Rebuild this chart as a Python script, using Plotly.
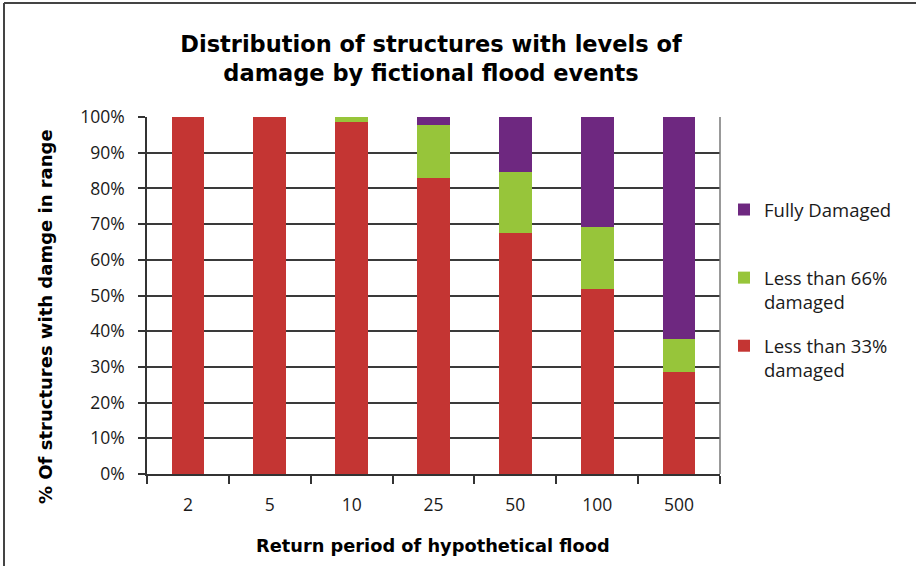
import plotly.graph_objects as go

categories = ["2", "5", "10", "25", "50", "100", "500"]
less_33 = [100, 100, 98.6, 83.0, 67.5, 51.8, 28.6]
less_66 = [0, 0, 1.4, 14.8, 17.1, 17.4, 9.2]
fully = [0, 0, 0, 2.2, 15.4, 30.8, 62.2]

series_names = ["Less than 33%<br>damaged", "Less than 66%<br>damaged", "Fully Damaged<br> "]
colors = ["#C43533", "#97C53A", "#6E2880"]
ranks = [3, 2, 1]
y_ticks = [0, 10, 20, 30, 40, 50, 60, 70, 80, 90, 100]
y_tick_text = [f"{v}%" for v in y_ticks]

W, H = 916, 566
L, R, T, B = 147, 196, 117, 92

fig = go.Figure()
for name, vals, col, rk in zip(series_names, [less_33, less_66, fully], colors, ranks):
    fig.add_trace(go.Bar(x=categories, y=vals, name=name, marker_color=col,
                         marker_line_width=0, legendgroup=name, legendrank=rk))

def px_x(p):
    return (p - L) / (W - L - R)

def px_y(p):
    return (H - B - p) / (H - T - B)

heavy = "DejaVu Sans"

fig.update_layout(
    width=W, height=H,
    barmode="stack", bargap=0.6,
    plot_bgcolor="white", paper_bgcolor="white",
    margin=dict(l=L, r=R, t=T, b=B),
    font=dict(family="Open Sans", size=17.5, color="#1a1a1a"),
    title=dict(text="Distribution of structures with levels of<br>damage by fictional flood events",
               xref="container", yref="container",
               x=431 / W, xanchor="center", y=1 - 52 / H, yanchor="middle",
               font=dict(family=heavy, weight="bold", size=22.5, color="black")),
    legend=dict(x=px_x(724), xanchor="left", y=px_y(191), yanchor="top",
                traceorder="grouped", tracegroupgap=17, valign="top",
                font=dict(family="Open Sans", size=18.5, color="#1a1a1a"),
                itemclick=False),
    xaxis=dict(type="category", showline=True, linecolor="#333", linewidth=1.5,
               mirror=False, ticks="outside", tickson="boundaries", ticklen=8,
               tickcolor="#333", tickwidth=1.5, showgrid=False,
               ticklabelstandoff=14),
    yaxis=dict(range=[0, 100], tickvals=y_ticks, ticktext=y_tick_text,
               showline=True, linecolor="#333", linewidth=1.5, mirror=False,
               ticks="outside", ticklen=7, tickcolor="#333", tickwidth=1.5,
               showgrid=True, gridcolor="#3a3a3a", gridwidth=1.5,
               ticklabelstandoff=10, zeroline=False),
    annotations=[
        dict(text="Return period of hypothetical flood", xref="paper", yref="paper",
             x=px_x(433), y=px_y(545), xanchor="center", yanchor="middle", showarrow=False,
             font=dict(family=heavy, weight="bold", size=17.8, color="black")),
        dict(text="% Of structures with damge in range", xref="paper", yref="paper",
             x=px_x(45), y=px_y(317), xanchor="center", yanchor="middle", showarrow=False,
             textangle=-90,
             font=dict(family=heavy, weight="bold", size=18, color="black")),
    ],
    shapes=[
        dict(type="line", xref="paper", yref="paper", x0=px_x(720), x1=px_x(720),
             y0=0, y1=1, line=dict(color="#777", width=1.5)),
        dict(type="line", xref="paper", yref="paper", x0=px_x(4), x1=px_x(930),
             y0=px_y(3), y1=px_y(3), line=dict(color="#444", width=2)),
        dict(type="line", xref="paper", yref="paper", x0=px_x(4), x1=px_x(4),
             y0=px_y(3), y1=px_y(580), line=dict(color="#444", width=2)),
    ],
)

fig.write_html("out.html", config={"displayModeBar": False},
               post_script="document.body.style.margin='0';")
